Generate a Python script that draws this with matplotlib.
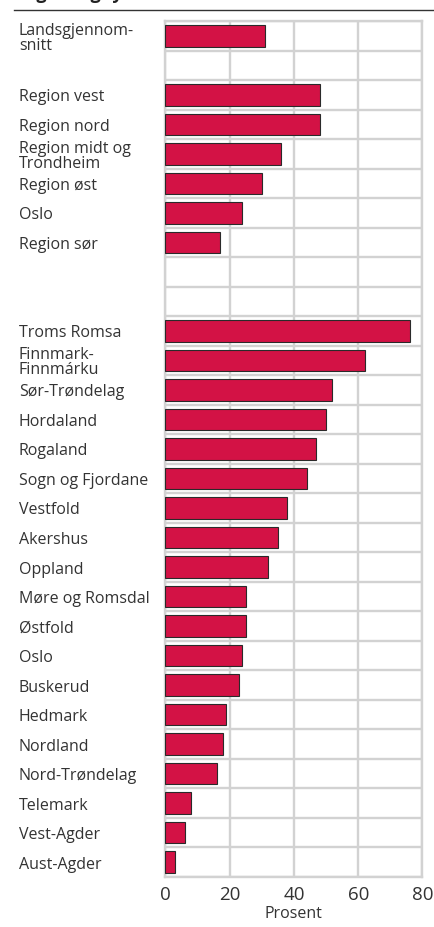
import numpy as np
import matplotlib.pyplot as plt
import matplotlib.transforms as mtransforms

plt.rcParams['font.family'] = ['Open Sans', 'DejaVu Sans']

region_labels = ["Landsgjennom-\nsnitt", None, "Region vest", "Region nord",
                 "Region midt og\nTrondheim", "Region øst", "Oslo", "Region sør"]
region_values = [31, None, 48, 48, 36, 30, 24, 17]

county_labels = ["Troms Romsa", "Finnmark-\nFinnmárku", "Sør-Trøndelag", "Hordaland",
                 "Rogaland", "Sogn og Fjordane", "Vestfold", "Akershus", "Oppland",
                 "Møre og Romsdal", "Østfold", "Oslo", "Buskerud", "Hedmark",
                 "Nordland", "Nord-Trøndelag", "Telemark", "Vest-Agder", "Aust-Agder"]
county_values = [76, 62, 52, 50, 47, 44, 38, 35, 32, 25, 25, 24, 23, 19, 18, 16, 8, 6, 3]

x_ticks = [0, 20, 40, 60, 80]

# two empty rows between the regions and the counties
labels = region_labels + [None, None] + county_labels
values = region_values + [None, None] + county_values
n = len(labels)

fig = plt.figure(figsize=(4.34, 9.28), dpi=100)
ax = fig.add_axes([0.381, 0.0539, 0.5925, 0.9224])

grid_col = '#d2d2d2'
text_col = '#333333'
for i, (lab, v) in enumerate(zip(labels, values)):
    if v is not None:
        ax.barh(i, v, height=0.73, color='#d31245', edgecolor='#2a2a2a', linewidth=0.8, zorder=3)

ax.set_ylim(n - 0.5, -0.5)
ax.set_xlim(0, 80)
ax.set_xticks(x_ticks)
ax.set_yticks([])
ax.set_yticks(np.arange(-0.5, n), minor=True)
ax.tick_params(axis='y', which='both', length=0, labelleft=False)
ax.tick_params(axis='x', length=0, labelsize=13.5, colors=text_col, pad=6)
ax.grid(axis='x', which='major', color=grid_col, linewidth=1.7, zorder=0)
ax.grid(axis='y', which='minor', color=grid_col, linewidth=1.7, zorder=0)
for s in ax.spines.values():
    s.set_color(grid_col)
    s.set_linewidth(1.7)
ax.set_xlabel('Prosent', fontsize=11.5, color=text_col, labelpad=1)

trans = mtransforms.blended_transform_factory(fig.transFigure, ax.transData)
for i, lab in enumerate(labels):
    if lab:
        ax.text(19 / 434, i + 0.05, lab, transform=trans, ha='left', va='center',
                fontsize=11.5, color=text_col, linespacing=0.92, clip_on=False)

# title sits above the crop, only its descenders show
fig.text(14 / 434, 1 + 1 / 928, 'Region og fylke', fontsize=13, fontweight='bold',
         ha='left', va='baseline', color='#222222')
fig.add_artist(plt.Line2D([14 / 434, 1], [1 - 11 / 928, 1 - 11 / 928],
                          transform=fig.transFigure, color='#333333', linewidth=1))

fig.savefig('out.png', dpi=100)
